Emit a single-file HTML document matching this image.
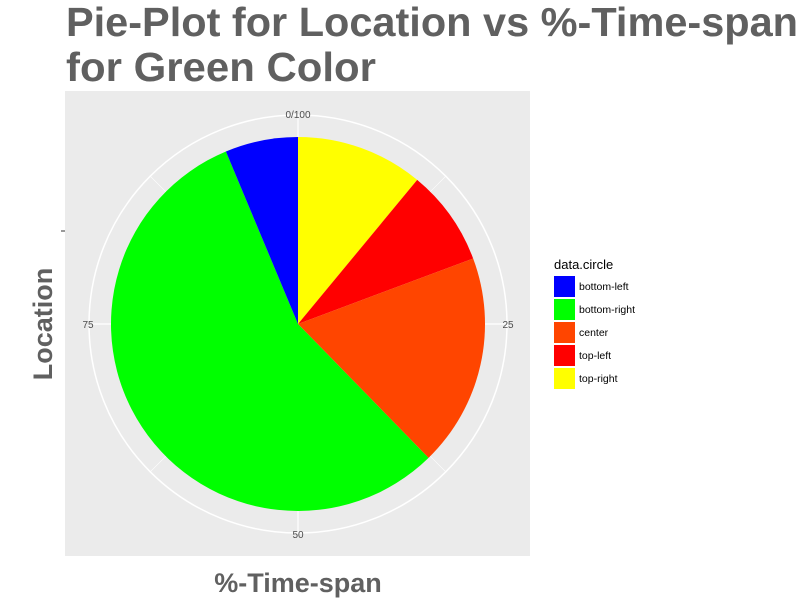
<!DOCTYPE html>
<html><head><meta charset="utf-8"><style>body{margin:0;background:#fff}svg{display:block}</style></head>
<body>
<svg id="chart" width="811" height="602" font-family="Liberation Sans, sans-serif">
<text x="66" y="36" font-size="41" font-weight="bold" fill="#606060" textLength="732" lengthAdjust="spacingAndGlyphs">Pie-Plot for Location vs %-Time-span</text>
<text x="66" y="81" font-size="41" font-weight="bold" fill="#606060" textLength="310" lengthAdjust="spacingAndGlyphs">for Green Color</text>
<rect x="65" y="91" width="465" height="465" fill="#ebebeb"/>
<g id="grid"></g>
<g id="slices"></g>
<g id="ticks"></g>
<line x1="61" y1="231" x2="65" y2="231" stroke="#333"/>
<text x="298" y="592" font-size="27" font-weight="bold" fill="#606060" text-anchor="middle">%-Time-span</text>
<text transform="translate(52,324) rotate(-90)" font-size="27" font-weight="bold" fill="#606060" text-anchor="middle">Location</text>
<text x="554" y="269" font-size="13" fill="#000">data.circle</text>
<g id="legend"></g>
</svg>
<script>
const categories=["bottom-left","bottom-right","center","top-left","top-right"];
const values=[6.3,56,18.4,8.3,11];
const colors=["#0000ff","#00ff00","#ff4500","#ff0000","#ffff00"];
const drawOrder=[4,3,2,1,0];
const tickLabels=["0/100","25","50","75"];
const tickValues=[0,25,50,75];
const NS="http://www.w3.org/2000/svg";
const cx=298,cy=324,R=187,RG=209;
function ang(p){return p/100*2*Math.PI;}
function pt(p,r){const a=ang(p);return [cx+r*Math.sin(a),cy-r*Math.cos(a)];}
function mk(t,attrs,parent){const e=document.createElementNS(NS,t);for(const k in attrs)e.setAttribute(k,attrs[k]);document.getElementById(parent).appendChild(e);return e;}
const total=values.reduce((a,b)=>a+b,0);
let c=mk("circle",{cx:cx,cy:cy,r:RG,fill:"none",stroke:"#fff","stroke-width":1.5},"grid");


for(let k=0;k<8;k++){const [x,y]=pt(k*12.5,RG);const l=mk("line",{x1:cx,y1:cy,x2:x,y2:y,stroke:"#fff","stroke-width":k%2?0.6:1.2},"grid");

}
let acc=0;
drawOrder.forEach(i=>{const p0=acc/total*100,p1=(acc+values[i])/total*100;acc+=values[i];
const [x0,y0]=pt(p0,R),[x1,y1]=pt(p1,R);const large=(p1-p0)>50?1:0;
const s=mk("path",{d:`M${cx},${cy}L${x0},${y0}A${R},${R} 0 ${large} 1 ${x1},${y1}Z`,fill:colors[i]},"slices");

});
tickValues.forEach((v,i)=>{const [x,y]=pt(v,RG+1);const t=mk("text",{x:x,y:y+4,"font-size":10,fill:"#4d4d4d","text-anchor":"middle"},"ticks");t.textContent=tickLabels[i];

});
categories.forEach((cat,i)=>{const y=276+i*23;
const r=mk("rect",{x:554,y:y,width:21,height:21,fill:colors[i]},"legend");


const t=mk("text",{x:579,y:y+14,"font-size":10.5,fill:"#000"},"legend");t.textContent=cat;

});
</script>
</body></html>
